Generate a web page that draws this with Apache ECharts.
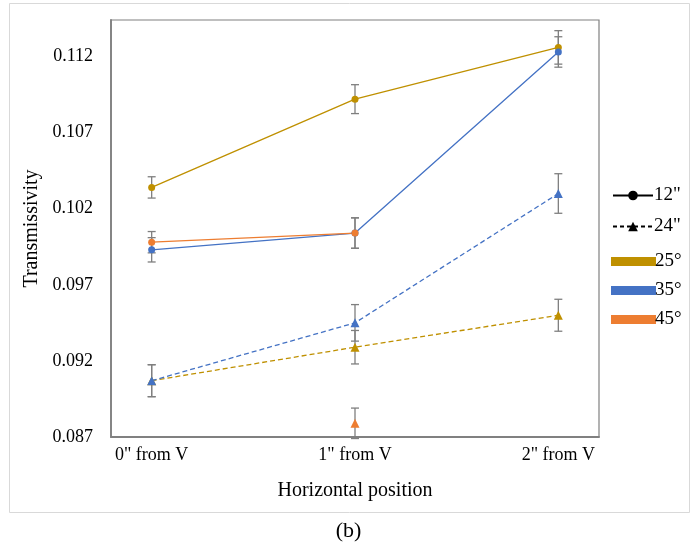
<!DOCTYPE html>
<html>
<head>
<meta charset="utf-8">
<script src="https://cdn.jsdelivr.net/npm/echarts@6/dist/echarts.min.js"></script>
<style>html,body{margin:0;padding:0;background:#fff;}#c{width:697px;height:547px;}</style>
</head>
<body>
<div id="c"></div>
<script>
// ---- data ----
const categories = ['0" from V', '1" from V', '2" from V'];
const yTicks = { min: 0.087, max: 0.1144, step: 0.005 };
// 12" distance (solid, circles)
const t12_25 = [0.1034, 0.1092, 0.1126];
const e12_25 = [0.0007, 0.00095, 0.0011];
const t12_35 = [0.0993, 0.1004, 0.1123];
const e12_35 = [0.0008, 0.0010, 0.0010];
const t12_45 = [0.0998, 0.1004, null];
const e12_45 = [0.0007, 0.0010, null];
// 24" distance (dashed, triangles)
const t24_25 = [0.0907, 0.0929, 0.0950];
const e24_25 = [0.00105, 0.0011, 0.00105];
const t24_35 = [0.0907, 0.0945, 0.1030];
const e24_35 = [0.00105, 0.0012, 0.0013];
const t24_45 = [null, 0.0879, null];
const e24_45 = [null, 0.0010, null];

// ---- styles ----
const C25 = '#BF9000', C35 = '#4472C4', C45 = '#ED7D31';
const FONT = '"Liberation Serif", "Times New Roman", serif';

const chart = echarts.init(document.getElementById('c'), null, { renderer: 'canvas' });

function pts(arr) { return arr.map((v, i) => v == null ? [i, null] : [i, v]); }
function errData(vals, errs) {
  const out = [];
  vals.forEach((v, i) => { if (v != null && errs[i] != null) out.push([i, v - errs[i], v + errs[i]]); });
  return out;
}
function errSeries(vals, errs) {
  return {
    type: 'custom', silent: true, z: 1, legendHoverLink: false,
    data: errData(vals, errs),
    encode: { x: 0, y: [1, 2] },
    renderItem: function (params, api) {
      const lo = api.coord([api.value(0), api.value(1)]);
      const hi = api.coord([api.value(0), api.value(2)]);
      const w = 4;
      const st = { stroke: '#7f7f7f', lineWidth: 1.3 };
      return { type: 'group', children: [
        { type: 'line', shape: { x1: lo[0], y1: lo[1], x2: hi[0], y2: hi[1] }, style: st },
        { type: 'line', shape: { x1: lo[0] - w, y1: lo[1], x2: lo[0] + w, y2: lo[1] }, style: st },
        { type: 'line', shape: { x1: hi[0] - w, y1: hi[1], x2: hi[0] + w, y2: hi[1] }, style: st }
      ]};
    }
  };
}
function lineSeries(name, vals, color, dashed) {
  return {
    name: name, type: 'line', z: 3, connectNulls: false,
    data: pts(vals),
    symbol: dashed ? 'triangle' : 'circle',
    symbolSize: dashed ? 9 : 7,
    lineStyle: { color: color, width: 1.3, type: dashed ? [5, 3] : 'solid' },
    itemStyle: { color: color },
    emphasis: { disabled: true },
    animation: false
  };
}

const series = [
  errSeries(t12_25, e12_25), errSeries(t12_35, e12_35), errSeries(t12_45, e12_45),
  errSeries(t24_25, e24_25), errSeries(t24_35, e24_35), errSeries(t24_45, e24_45),
  lineSeries('g12', t12_25, C25, false),
  lineSeries('b12', t12_35, C35, false),
  lineSeries('o12', t12_45, C45, false),
  lineSeries('g24', t24_25, C25, true),
  lineSeries('b24', t24_35, C35, true),
  lineSeries('o24', t24_45, C45, true),
  // legend-only entries
  { name: '12"', type: 'line', data: [], symbol: 'circle', symbolSize: 6,
    lineStyle: { color: '#000', width: 1.2 }, itemStyle: { color: '#000' } },
  { name: '24"', type: 'line', data: [], symbol: 'triangle', symbolSize: 7,
    lineStyle: { color: '#000', width: 1.2, type: [4, 3] }, itemStyle: { color: '#000' } },
  { name: '25°', type: 'line', data: [], itemStyle: { color: C25 } },
  { name: '35°', type: 'line', data: [], itemStyle: { color: C35 } },
  { name: '45°', type: 'line', data: [], itemStyle: { color: C45 } }
];

const option = {
  animation: false,
  backgroundColor: '#fff',
  textStyle: { fontFamily: FONT },
  title: {
    text: '(b)', left: 'center', top: 515,
    textStyle: { fontFamily: FONT, fontSize: 22, fontWeight: 'normal', color: '#000' }
  },
  graphic: [{
    type: 'rect', silent: true, z: -10,
    shape: { x: 9.5, y: 3.5, width: 680, height: 509 },
    style: { fill: 'none', stroke: '#d9d9d9', lineWidth: 1 }
  }],
  legend: [
    {
      data: ['12"', '24"'], orient: 'vertical', left: 607, top: 181,
      itemWidth: 40, itemHeight: 12, itemGap: 12, selectedMode: false,
      textStyle: { fontFamily: FONT, fontSize: 19, color: '#000', padding: [0, 0, 0, -4] }
    },
    {
      data: ['25°', '35°', '45°'], orient: 'vertical', left: 606, top: 247,
      icon: 'rect', itemWidth: 45, itemHeight: 9, itemGap: 10, selectedMode: false,
      textStyle: { fontFamily: FONT, fontSize: 19, color: '#000', padding: [0, 0, 0, -6] }
    }
  ],
  grid: {
    left: 111, top: 20, right: 98, bottom: 110,
    show: true, borderColor: '#808080', borderWidth: 1.2, backgroundColor: 'transparent'
  },
  xAxis: {
    type: 'value', min: -0.2, max: 2.2,
    name: 'Horizontal position', nameLocation: 'middle', nameGap: 44,
    nameTextStyle: { fontFamily: FONT, fontSize: 20, color: '#000' },
    axisLine: { show: true, onZero: false, lineStyle: { color: '#808080', width: 1.8 } },
    axisTick: { show: false },
    splitLine: { show: false },
    axisLabel: {
      customValues: [0, 1, 2],
      formatter: v => categories[Math.round(v)] || '',
      fontFamily: FONT, fontSize: 18, color: '#000', margin: 9
    }
  },
  yAxis: {
    type: 'value', min: yTicks.min, max: yTicks.max, interval: yTicks.step,
    name: 'Transmissivity', nameLocation: 'middle', nameGap: 66,
    nameTextStyle: { fontFamily: FONT, fontSize: 20, color: '#000' },
    axisLine: { show: true, onZero: false, lineStyle: { color: '#808080', width: 1.8 } },
    axisTick: { show: false },
    splitLine: { show: false },
    axisLabel: {
      showMaxLabel: false,
      formatter: v => v.toFixed(3),
      fontFamily: FONT, fontSize: 18, color: '#000', margin: 18
    }
  },
  series: series
};
chart.setOption(option);
</script>
</body>
</html>
